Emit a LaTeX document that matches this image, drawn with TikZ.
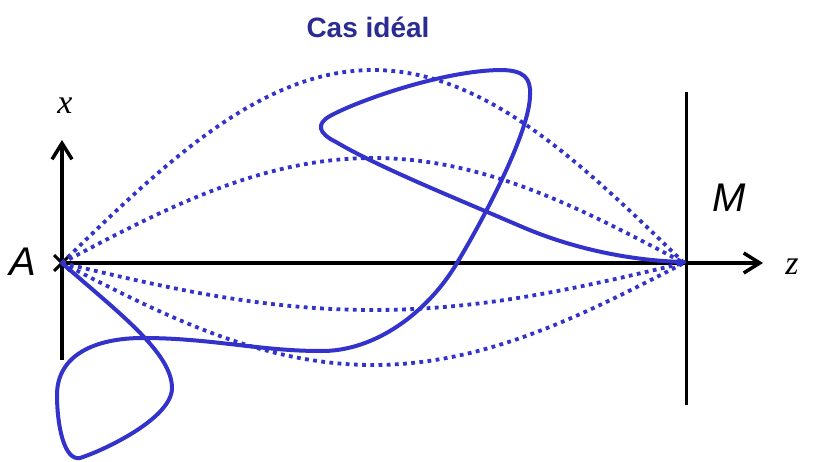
\documentclass[tikz,border=0pt]{standalone}
\usepackage{fontspec}
\setmainfont{Liberation Sans}
\newfontfamily\serifit{Liberation Serif}
\usetikzlibrary{arrows.meta,calc}
\definecolor{wave}{RGB}{51,51,204}
\definecolor{titleblue}{RGB}{43,43,145}
\tikzset{
  axis/.style={line width=3.5pt, draw=black},
  axarrow/.style={axis, -{Straight Barb[length=16pt,width=20pt,line width=3.5pt]}},
  dotray/.style={draw=wave, line width=3.8pt, dash pattern=on 3.8pt off 4.4pt},
  ray/.style={draw=wave, line width=4pt, line join=round, line cap=round},
  biglabel/.style={font=\fontsize{40}{48}\selectfont\itshape},
  mathlabel/.style={font=\fontsize{34}{40}\selectfont\serifit\itshape},
}
\begin{document}
\begin{tikzpicture}[x=1pt,y=-1pt]
\useasboundingbox (0,0) rectangle (813,462);
% points
\coordinate (A) at (62,263);
\coordinate (Mp) at (684,262);
\coordinate (xbot) at (62,360);
\coordinate (xtop) at (62,140);
\coordinate (zend) at (763,263);
\coordinate (mtop) at (686,92);
\coordinate (mbot) at (686,405);
% title
\node[font=\fontsize{28}{34}\selectfont\bfseries, text=titleblue] (title) at (368,27) {Cas idéal};
% axes
\draw[axarrow] (xbot) -- (xtop);
\draw[axarrow] (A) -- (zend);
\draw[line width=3pt] (mtop) -- (mbot);
\draw[line width=3pt] ($(A)+(-8,-8)$) -- ($(A)+(8,8)$);
\draw[line width=3pt] ($(A)+(-8,8)$) -- ($(A)+(8,-8)$);
% labels
\node[mathlabel] (xl) at (65,106) {x};
\node[mathlabel] (zl) at (792,267) {z};
\node[biglabel] (Al) at (23,262) {A};
\node[biglabel] (Ml) at (729,198) {M};
% dotted arches
\draw[dotray] plot[domain=0:180, samples=90] ({62+3.4556*\x},{263-193*sin(\x)});
\draw[dotray] plot[domain=0:180, samples=90] ({62+3.4556*\x},{263-105*sin(\x)});
\draw[dotray] plot[domain=0:180, samples=90] ({62+3.4556*\x},{263+47*sin(\x)});
\draw[dotray] plot[domain=0:180, samples=90] ({62+3.4556*\x},{263+102*sin(\x)});
% solid ray
\draw[ray] (A)
  .. controls (115,310) and (172,352) .. (172,388)
  .. controls (172,418) and (105,450) .. (80,458)
  .. controls (64,461) and (57,425) .. (57,395)
  .. controls (57,355) and (95,338) .. (143,338)
  .. controls (210,338) and (260,351) .. (320,351)
  .. controls (375,352) and (428,312) .. (457,263)
  .. controls (487,213) and (530,130) .. (530,95)
  .. controls (531,78) and (524,70) .. (500,70)
  .. controls (440,71) and (355,102) .. (330,116)
  .. controls (316,124) and (318,133) .. (336,142)
  .. controls (380,168) and (460,200) .. (520,226)
  .. controls (580,252) and (640,261) .. (Mp);
\end{tikzpicture}
\end{document}
